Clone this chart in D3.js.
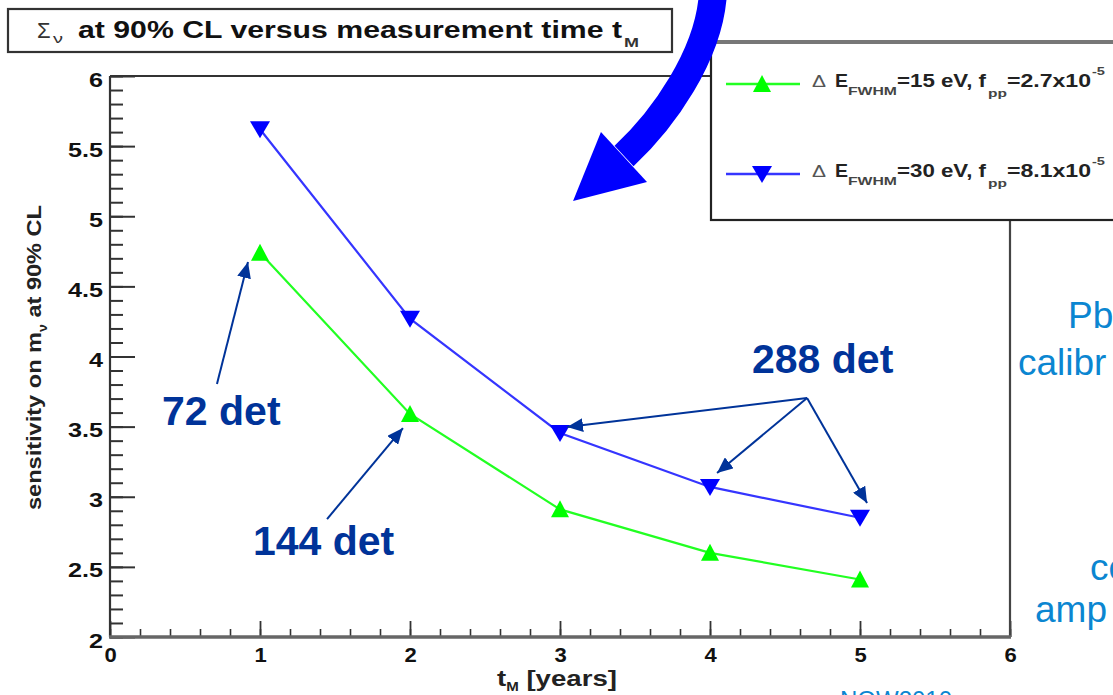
<!DOCTYPE html>
<html>
<head>
<meta charset="utf-8">
<script src="https://cdn.jsdelivr.net/npm/d3@7"></script>
<style>
  html, body { margin: 0; padding: 0; background: #fff; }
  svg { display: block; font-family: "Liberation Sans", Arial, Helvetica, sans-serif; }
</style>
</head>
<body>
<svg id="chart" width="1113" height="695"></svg>
<script>
// ---------- data ----------
const tYears = [1, 2, 3, 4, 5];
const sens15 = [4.74, 3.59, 2.91, 2.60, 2.41];   // ΔE=15 eV (green, triangle up)
const sens30 = [5.62, 4.27, 3.455, 3.07, 2.85];  // ΔE=30 eV (blue, triangle down)
const xTickValues = [0, 1, 2, 3, 4, 5, 6];
const yTickValues = [2, 2.5, 3, 3.5, 4, 4.5, 5, 5.5, 6];
const seriesNames = ["15", "30"];
const fppValues = ["2.7x10", "8.1x10"];

// annotation labels (data units)
const detLabels = ["72 det", "144 det", "288 det"];
const detLabelPos = [[0.347, 3.512], [0.953, 2.585], [4.28, 3.882]];
const detArrows = [
  [[0.713, 3.804], [0.92, 4.674]],
  [[1.447, 2.841], [1.953, 3.490]],
  [[4.647, 3.704], [3.047, 3.497]],
  [[4.647, 3.704], [4.047, 3.169]],
  [[4.647, 3.704], [5.047, 2.955]]
];

// ---------- layout ----------
const svg = d3.select("#chart");
const x = d3.scaleLinear().domain([0, 6]).range([110, 1010]);
const y = d3.scaleLinear().domain([2, 6]).range([637, 76]);
const DARK = "#003399";

function stretch(sel, factor) {
  sel.each(function () {
    const len = this.getComputedTextLength();
    d3.select(this).attr("textLength", len * factor).attr("lengthAdjust", "spacingAndGlyphs");
  });
}

// ---------- axes ----------
const yMinor = d3.range(20, 61).map(v => v / 10);
const xMinor = d3.range(0, 31).map(v => v / 5);

svg.append("g").attr("transform", "translate(110,0)")
  .call(d3.axisLeft(y).tickValues(yMinor).tickSizeInner(-13).tickSizeOuter(0).tickFormat(""))
  .call(g => g.select(".domain").remove())
  .call(g => g.selectAll("line").attr("stroke", "#333").attr("stroke-width", 2));

const yAx = svg.append("g").attr("transform", "translate(110,0)")
  .call(d3.axisLeft(y).tickValues(yTickValues).tickSizeInner(-25).tickSizeOuter(0).tickPadding(7)
    .tickFormat(d => d % 1 ? d3.format(".1f")(d) : d3.format("d")(d)))
  .call(g => g.select(".domain").remove())
  .call(g => g.selectAll("line").attr("stroke", "#333").attr("stroke-width", 2));
yAx.selectAll("text").attr("dy", "0.48em").attr("font-size", 21).attr("font-weight", "bold")
  .attr("fill", "#111").attr("font-family", "Liberation Sans, Arial, sans-serif");
stretch(yAx.selectAll("text"), 1.2);

svg.append("g").attr("transform", "translate(0,637)")
  .call(d3.axisBottom(x).tickValues(xMinor).tickSizeInner(-8).tickSizeOuter(0).tickFormat(""))
  .call(g => g.select(".domain").remove())
  .call(g => g.selectAll("line").attr("stroke", "#333").attr("stroke-width", 1.6));

const xAx = svg.append("g").attr("transform", "translate(0,637)")
  .call(d3.axisBottom(x).tickValues(xTickValues).tickSizeInner(-16).tickSizeOuter(0).tickPadding(10)
    .tickFormat(d3.format("d")))
  .call(g => g.select(".domain").remove())
  .call(g => g.selectAll("line").attr("stroke", "#333").attr("stroke-width", 1.8));
xAx.selectAll("text").attr("font-size", 21).attr("font-weight", "bold").attr("fill", "#111")
  .attr("font-family", "Liberation Sans, Arial, sans-serif");
stretch(xAx.selectAll("text"), 1.05);

// frame
const fr = svg.append("g");
fr.append("line").attr("x1", x(0)).attr("x2", x(6)).attr("y1", y(6)).attr("y2", y(6)).attr("stroke", "#333").attr("stroke-width", 2.2);
fr.append("line").attr("x1", x(6)).attr("x2", x(6)).attr("y1", y(6)).attr("y2", y(2)).attr("stroke", "#444").attr("stroke-width", 2.2);
fr.append("line").attr("x1", x(0)).attr("x2", x(0)).attr("y1", y(6)).attr("y2", y(2)).attr("stroke", "#333").attr("stroke-width", 2.2);
fr.append("line").attr("x1", x(0) - 1).attr("x2", x(6) + 1).attr("y1", y(2)).attr("y2", y(2)).attr("stroke", "#666").attr("stroke-width", 3.5);

// axis titles
const yt = svg.append("text").attr("transform", `translate(41,${(y(6) + y(2)) / 2 + 1}) rotate(-90)`)
  .attr("text-anchor", "middle").attr("font-size", 20).attr("font-weight", "bold").attr("fill", "#222");
yt.append("tspan").text("sensitivity on m");
yt.append("tspan").attr("dy", 6).attr("font-size", 12).text("ν");
yt.append("tspan").attr("dy", -6).text(" at 90% CL");
yt.attr("textLength", 305).attr("lengthAdjust", "spacingAndGlyphs");

const xt = svg.append("text").attr("x", 497).attr("y", 686)
  .attr("font-size", 22).attr("font-weight", "bold").attr("fill", "#222");
xt.append("tspan").text("t");
xt.append("tspan").attr("dy", 5).attr("font-size", 12).text("M");
xt.append("tspan").attr("dy", -5).text(" [years]");
xt.attr("textLength", 120).attr("lengthAdjust", "spacingAndGlyphs");

// ---------- series ----------
const line = d3.line().curve(d3.curveLinear).x(d => x(d[0])).y(d => y(d[1]));
const triUp = "M0,-9 L9,8 L-9,8 Z";
const triDown = "M0,9 L10,-8 L-10,-8 Z";
const series = [
  { vals: sens15, color: "#00ff00", line: "#22ff22", sym: triUp },
  { vals: sens30, color: "#0000ff", line: "#3535ff", sym: triDown }
];
series.forEach(s => {
  const pts = tYears.map((t, i) => [t, s.vals[i]]);
  svg.append("path").attr("d", line(pts)).attr("fill", "none").attr("stroke", s.line).attr("stroke-width", 2.2);
  svg.selectAll(null).data(pts).enter().append("path")
    .attr("d", s.sym).attr("transform", d => `translate(${x(d[0])},${y(d[1])})`).attr("fill", s.color);
});

// ---------- annotations ----------
svg.append("defs").append("marker").attr("id", "ah").attr("viewBox", "0 0 16 14")
  .attr("refX", 16).attr("refY", 7).attr("markerWidth", 16).attr("markerHeight", 14)
  .attr("markerUnits", "userSpaceOnUse").attr("orient", "auto")
  .append("path").attr("d", "M0,0 L16,7 L0,14 Z").attr("fill", DARK);

detArrows.forEach(a => {
  svg.append("line").attr("x1", x(a[0][0])).attr("y1", y(a[0][1]))
    .attr("x2", x(a[1][0])).attr("y2", y(a[1][1]))
    .attr("stroke", DARK).attr("stroke-width", 2).attr("marker-end", "url(#ah)");
});
detLabels.forEach((t, i) => {
  svg.append("text").attr("x", x(detLabelPos[i][0])).attr("y", y(detLabelPos[i][1]))
    .attr("font-size", 41).attr("font-weight", "bold").attr("fill", DARK)
    .attr("font-family", "Liberation Sans, Arial, sans-serif").text(t);
});

// ---------- title box ----------
svg.append("rect").attr("x", 8).attr("y", 9).attr("width", 664).attr("height", 43)
  .attr("fill", "#fff").attr("stroke", "#333").attr("stroke-width", 2.2);
svg.append("text").attr("x", 37).attr("y", 38).attr("font-size", 22).attr("fill", "#333").text("Σ");
svg.append("text").attr("x", 53).attr("y", 43).attr("font-size", 13).attr("fill", "#333").text("ν")
  .attr("textLength", 10).attr("lengthAdjust", "spacingAndGlyphs");
svg.append("text").attr("x", 78).attr("y", 38).attr("font-size", 23).attr("font-weight", "bold").attr("fill", "#111")
  .text("at 90% CL versus measurement time t").attr("textLength", 544).attr("lengthAdjust", "spacingAndGlyphs");
svg.append("text").attr("x", 624).attr("y", 47).attr("font-size", 13).attr("font-weight", "bold").attr("fill", "#333")
  .text("M").attr("textLength", 15).attr("lengthAdjust", "spacingAndGlyphs");

// ---------- legend ----------
const lg = svg.append("g");
lg.append("rect").attr("x", 711).attr("y", 42).attr("width", 430).attr("height", 178)
  .attr("fill", "#fff").attr("stroke", "#222").attr("stroke-width", 2.2);
lg.append("line").attr("x1", 711).attr("x2", 1113).attr("y1", 42).attr("y2", 42).attr("stroke", "#777").attr("stroke-width", 4);
const legY = [87, 177];
series.forEach((s, i) => {
  const by = legY[i];
  lg.append("line").attr("x1", 726).attr("x2", 800).attr("y1", by - 3).attr("y2", by - 3).attr("stroke", s.line).attr("stroke-width", 2.5);
  lg.append("path").attr("d", s.sym).attr("transform", `translate(762,${by - 3})`).attr("fill", s.color);
  const T = (xx, yy, txt, fs, w, bold, fill) => lg.append("text").attr("x", xx).attr("y", yy)
    .attr("font-size", fs).attr("font-weight", bold ? "bold" : "normal").attr("fill", fill || "#222")
    .text(txt).attr("textLength", w).attr("lengthAdjust", "spacingAndGlyphs");
  T(812, by, "Δ", 17, 14, false, "#555");
  T(835, by, "E", 18, 13, true);
  T(848, by + 8, "FWHM", 11, 49, true, "#444");
  T(897, by, "=" + seriesNames[i] + " eV, f", 18, 89, true);
  T(988, by + 10, "pp", 11, 19, true, "#444");
  T(1007, by, "=" + fppValues[i], 18, 84, true);
  T(1092, by - 12, "-5", 10, 13, true, "#444");
});

// ---------- big blue arrow ----------
const bigBody = [[4.02, 6.6], [4.0, 6.15], [3.68, 5.68], [3.427, 5.430]];
const bigHead = [[3.087, 5.109], [3.273, 5.601], [3.58, 5.244]];
const bp = d3.path();
bp.moveTo(x(bigBody[0][0]), y(bigBody[0][1]));
bp.bezierCurveTo(x(bigBody[1][0]), y(bigBody[1][1]), x(bigBody[2][0]), y(bigBody[2][1]), x(bigBody[3][0]), y(bigBody[3][1]));
svg.append("path").attr("d", bp.toString()).attr("fill", "none").attr("stroke", "#0000ff").attr("stroke-width", 28);
svg.append("path").attr("d", d3.line().x(d => x(d[0])).y(d => y(d[1]))(bigHead) + "Z").attr("fill", "#0000ff");

// ---------- slide text fragments (cropped at right edge, as in the source) ----------
const SL = "#0b86d1";
const slide = [["Pb", 1068, 328], ["calibr", 1018, 375], ["co", 1090, 580], ["amp", 1035, 622]];
slide.forEach(s => svg.append("text").attr("x", s[1]).attr("y", s[2]).attr("font-size", 37)
  .attr("fill", SL).attr("font-family", "Liberation Sans, Arial, sans-serif").text(s[0]));
svg.append("text").attr("x", 840).attr("y", 708).attr("font-size", 24).attr("fill", SL).text("NOW2010");
</script>
</body>
</html>
